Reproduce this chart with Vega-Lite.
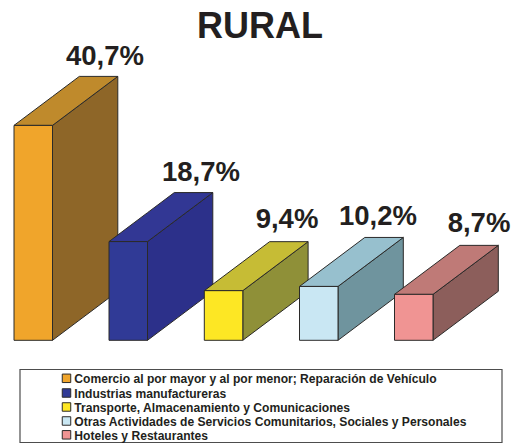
{"$schema":"https://vega.github.io/schema/vega-lite/v6.json","width":512,"height":444,"padding":0,"autosize":{"type":"none"},"background":"white","view":{"stroke":null},
"layer":[
{"data":{"values":[{"t":"RURAL","p":260,"y":57.25}]},
"mark":{"type":"text","font":"Liberation Sans","fontSize":36,"fontWeight":"bold","color":"#231f20","align":"center","baseline":"alphabetic"},
"encoding":{"x":{"field":"p","type":"quantitative","scale":{"domain":[0,512],"nice":false,"zero":false},"axis":null},"y":{"field":"y","type":"quantitative","scale":{"domain":[-19.64,64.45],"nice":false,"zero":false},"axis":null},"text":{"field":"t"}}},
{"data":{"values":[
{"f":"1s","p":52.5,"a":0,"b":40.7},{"f":"1s","p":117.8,"a":9.28,"b":49.98},
{"f":"1t","p":14,"a":40.7,"b":40.7},{"f":"1t","p":52.5,"a":40.7,"b":46.17},{"f":"1t","p":79.3,"a":44.51,"b":49.98},{"f":"1t","p":117.8,"a":49.98,"b":49.98},
{"f":"1f","p":14,"a":0,"b":40.7},{"f":"1f","p":52.5,"a":0,"b":40.7},
{"f":"2s","p":147.5,"a":0,"b":18.7},{"f":"2s","p":212.8,"a":9.28,"b":27.98},
{"f":"2t","p":109,"a":18.7,"b":18.7},{"f":"2t","p":147.5,"a":18.7,"b":24.17},{"f":"2t","p":174.3,"a":22.51,"b":27.98},{"f":"2t","p":212.8,"a":27.98,"b":27.98},
{"f":"2f","p":109,"a":0,"b":18.7},{"f":"2f","p":147.5,"a":0,"b":18.7},
{"f":"3s","p":242.8,"a":0,"b":9.4},{"f":"3s","p":308.1,"a":9.28,"b":18.68},
{"f":"3t","p":204.3,"a":9.4,"b":9.4},{"f":"3t","p":242.8,"a":9.4,"b":14.87},{"f":"3t","p":269.6,"a":13.21,"b":18.68},{"f":"3t","p":308.1,"a":18.68,"b":18.68},
{"f":"3f","p":204.3,"a":0,"b":9.4},{"f":"3f","p":242.8,"a":0,"b":9.4},
{"f":"4s","p":338,"a":0,"b":10.2},{"f":"4s","p":403.3,"a":9.28,"b":19.48},
{"f":"4t","p":299.5,"a":10.2,"b":10.2},{"f":"4t","p":338,"a":10.2,"b":15.67},{"f":"4t","p":364.8,"a":14.01,"b":19.48},{"f":"4t","p":403.3,"a":19.48,"b":19.48},
{"f":"4f","p":299.5,"a":0,"b":10.2},{"f":"4f","p":338,"a":0,"b":10.2},
{"f":"5s","p":433,"a":0,"b":8.7},{"f":"5s","p":498.3,"a":9.28,"b":17.98},
{"f":"5t","p":394.5,"a":8.7,"b":8.7},{"f":"5t","p":433,"a":8.7,"b":14.17},{"f":"5t","p":459.8,"a":12.51,"b":17.98},{"f":"5t","p":498.3,"a":17.98,"b":17.98},
{"f":"5f","p":394.5,"a":0,"b":8.7},{"f":"5f","p":433,"a":0,"b":8.7}
]},
"mark":{"type":"area","stroke":"#2b2a29","strokeWidth":1,"fillOpacity":1,"strokeJoin":"miter"},
"encoding":{
"x":{"field":"p","type":"quantitative","scale":{"domain":[0,512],"nice":false,"zero":false},"axis":null},
"y":{"field":"a","type":"quantitative","stack":null,"scale":{"domain":[-19.64,64.45],"nice":false,"zero":false},"axis":null},
"y2":{"field":"b"},
"detail":{"field":"f"},
"fill":{"field":"f","type":"nominal","legend":null,"scale":{"domain":["1s","1t","1f","2s","2t","2f","3s","3t","3f","4s","4t","4f","5s","5t","5f"],"range":["#8e6628","#bf8a2c","#f0a52b","#2c308a","#323794","#303a96","#8f9038","#c6bc35","#fde724","#6f949e","#97c0ce","#c9e7f3","#8c5e5b","#bf7a77","#f09493"]}}
}},
{"data":{"values":[{"l":"40,7%","p":105,"y":52.14},{"l":"18,7%","p":201,"y":30.17},{"l":"9,4%","p":287,"y":21.2},{"l":"10,2%","p":378,"y":21.84},{"l":"8,7%","p":479,"y":20.45}]},
"mark":{"type":"text","font":"Liberation Sans","fontSize":27.5,"fontWeight":"bold","color":"#231f20","align":"center","baseline":"alphabetic"},
"encoding":{"x":{"field":"p","type":"quantitative","scale":{"domain":[0,512],"nice":false,"zero":false},"axis":null},"y":{"field":"y","type":"quantitative","scale":{"domain":[-19.64,64.45],"nice":false,"zero":false},"axis":null},"text":{"field":"l"}}},
{"data":{"values":[{"x0":20,"x1":502,"y0":-19.36,"y1":-5.53}]},
"mark":{"type":"rect","fill":"white","stroke":"#4d4d4d","strokeWidth":1.2},
"encoding":{"x":{"field":"x0","type":"quantitative","scale":{"domain":[0,512],"nice":false,"zero":false},"axis":null},"x2":{"field":"x1"},"y":{"field":"y0","type":"quantitative","scale":{"domain":[-19.64,64.45],"nice":false,"zero":false},"axis":null},"y2":{"field":"y1"}}},
{"data":{"values":[{"c":"Comercio al por mayor y al por menor; Reparación de Vehículo","p":66.5,"y":-7.2,"k":"a"},{"c":"Industrias manufactureras","p":66.5,"y":-9.98,"k":"b"},{"c":"Transporte, Almacenamiento y Comunicaciones","p":66.5,"y":-12.63,"k":"c"},{"c":"Otras Actividades de Servicios Comunitarios, Sociales y Personales","p":66.5,"y":-15.28,"k":"d"},{"c":"Hoteles y Restaurantes","p":66.5,"y":-17.9,"k":"e"}]},
"layer":[
{"mark":{"type":"point","shape":"square","filled":true,"size":72,"stroke":"#2b2a29","strokeWidth":1,"opacity":1},
"encoding":{"x":{"field":"p","type":"quantitative","scale":{"domain":[0,512],"nice":false,"zero":false},"axis":null},"y":{"field":"y","type":"quantitative","scale":{"domain":[-19.64,64.45],"nice":false,"zero":false},"axis":null},
"fill":{"field":"k","type":"nominal","legend":null,"scale":{"domain":["a","b","c","d","e"],"range":["#f0a52b","#303a96","#fde724","#c9e7f3","#f09493"]}}}},
{"mark":{"type":"text","font":"Liberation Sans","fontSize":12.1,"fontWeight":"bold","color":"#231f20","align":"left","baseline":"middle","dx":7.8,"dy":0.7},
"encoding":{"x":{"field":"p","type":"quantitative","scale":{"domain":[0,512],"nice":false,"zero":false},"axis":null},"y":{"field":"y","type":"quantitative","scale":{"domain":[-19.64,64.45],"nice":false,"zero":false},"axis":null},"text":{"field":"c"}}}
]}
],
"resolve":{"scale":{"fill":"independent"}}
}
